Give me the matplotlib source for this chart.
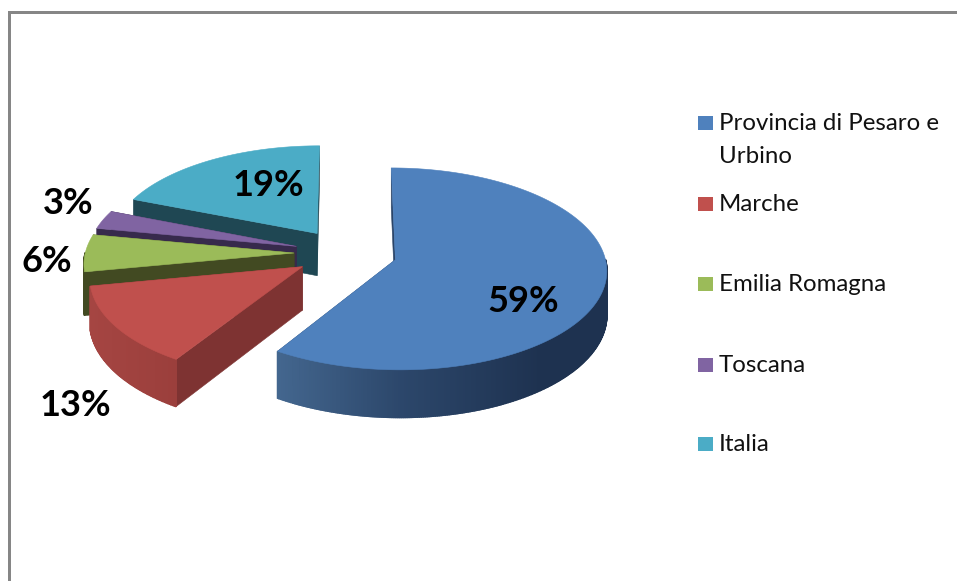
import numpy as np
import matplotlib
matplotlib.use('Agg')
import matplotlib.pyplot as plt
from matplotlib.patches import Polygon, Rectangle

plt.rcParams['font.family'] = ['Lato', 'DejaVu Sans']

categories = ["Provincia di Pesaro e\nUrbino", "Marche", "Emilia Romagna", "Toscana", "Italia"]
values = [59, 13, 6, 3, 19]
top_colors = ["#4f81bd", "#c0504d", "#9bbb59", "#8064a2", "#4bacc6"]
side_colors = ["#2a4468", "#7e3332", "#424a22", "#372a4c", "#1f4753"]

# wall shading along the outer rim: screen x -> colour
rim_x = [[275, 400, 540, 610], [90, 175], [85, 100], [100, 120], [130, 320]]
rim_colors = [["#44678f", "#2c476b", "#1e3250", "#1e3250"],
              ["#a54542", "#9b3f3c"],
              ["#424a22", "#424a22"],
              ["#372a4c", "#372a4c"],
              ["#1f4753", "#1f4753"]]

label_pos = [(523, 301), (75, 405), (47, 261), (68, 204), (268, 186)]
legend_y = [123, 204, 284, 365, 444]

# projection of the tilted pie onto the figure, in pixels
CX, CY = 345.6, 253
RX, RY = 212, 98.9
PERSP = 0.09
DEPTH = 43
EXPLODE = 0.243
WIDTH = 0.985


def project(u, v, down=0.0):
    w = 1 + PERSP * v
    return CX + RX * u / w, CY - RY * v / w + down / w


def hex_rgb(c):
    return np.array(matplotlib.colors.to_rgb(c))


def shade(x, xs, cols):
    rgb = np.array([hex_rgb(c) for c in cols])
    return tuple(np.interp(x, xs, rgb[:, i]) for i in range(3))


def quad(ax, pts, color, z, lw=0.4):
    ax.add_patch(Polygon(pts, closed=True, facecolor=color, edgecolor=color, lw=lw, zorder=z))


def draw_slice(ax, idx, start, stop, z):
    mid = np.radians((start + stop) / 2)
    ou, ov = EXPLODE * np.sin(mid), EXPLODE * np.cos(mid)
    theta = np.radians(np.linspace(start, stop, max(int(stop - start) * 2, 8)))
    u = ou + WIDTH * np.sin(theta)
    v = ov + np.cos(theta)
    xt, yt = project(u, v)
    xb, yb = project(u, v, DEPTH)
    ax0, ay0 = project(ou, ov)
    ax1, ay1 = project(ou, ov, DEPTH)

    # radial faces first, the rim and the top go over them
    for k in (0, -1):
        quad(ax, [(ax0, ay0), (xt[k], yt[k]), (xb[k], yb[k]), (ax1, ay1)], side_colors[idx], z)
    # thick edges hide the seams between rim segments, back of the rim is never seen
    for k in range(len(theta) - 1):
        if np.cos(theta[k]) > 0 and np.cos(theta[k + 1]) > 0:
            continue
        c = shade((xt[k] + xt[k + 1]) / 2, rim_x[idx], rim_colors[idx])
        quad(ax, [(xt[k], yt[k]), (xt[k + 1], yt[k + 1]), (xb[k + 1], yb[k + 1]), (xb[k], yb[k])], c, z + 0.1, lw=1.2)
    quad(ax, [(ax0, ay0)] + list(zip(xt, yt)), top_colors[idx], z + 0.2)


fig = plt.figure(figsize=(9.57, 5.81), dpi=100)
ax = fig.add_axes([0, 0, 1, 1])
ax.set_xlim(0, 957)
ax.set_ylim(581, 0)
ax.axis('off')

# chart frame runs off the right and bottom edges
ax.add_patch(Rectangle((8, 11), 3, 570, facecolor="#868686", edgecolor="none"))
ax.add_patch(Rectangle((8, 11), 949, 3, facecolor="#868686", edgecolor="none"))

edges = np.concatenate([[0], np.cumsum(values)]) / sum(values) * 360
# back slices are painted first
for z, i in enumerate([4, 3, 2, 1, 0]):
    draw_slice(ax, i, edges[i], edges[i + 1], z + 1)

for val, (x, y) in zip(values, label_pos):
    ax.text(x, y, f"{val}%", ha='center', va='center', fontsize=26, fontweight='bold',
            color='black', zorder=10)

for name, col, y in zip(categories, top_colors, legend_y):
    ax.add_patch(Rectangle((698, y - 7), 15, 14, facecolor=col, edgecolor="none"))
    ax.text(719, y - 10, name, ha='left', va='top', fontsize=17.3, color='#111111', linespacing=1.7)

fig.savefig('out.png', dpi=100)
